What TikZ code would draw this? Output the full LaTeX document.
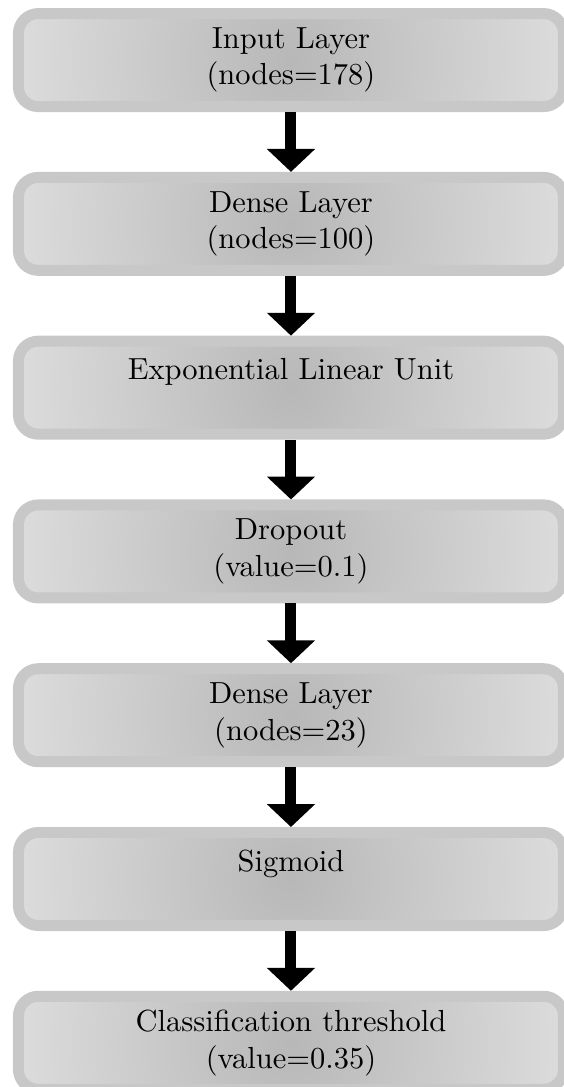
\documentclass[tikz,border=0pt]{standalone}
\usetikzlibrary{positioning,arrows.meta}

\definecolor{layerrim}{gray}{0.785}
\definecolor{layerdark}{gray}{0.72}
\definecolor{layerlight}{gray}{0.93}
\pgfdeclareradialshading{layershade}{\pgfpoint{0bp}{0bp}}{color(0bp)=(layerdark); color(35bp)=(layerlight); color(50bp)=(layerlight)}

\begin{document}
\begin{tikzpicture}[node distance=19.6pt, layer/.style={rectangle, rounded corners=6.5pt, draw=layerrim, line width=3.6pt, minimum width=178.7pt, minimum height=30.5pt, align=center, path picture={\shade[shading=layershade] (path picture bounding box.center) circle (95pt);}}, flow/.style={line width=3.6pt, -{Triangle[width=15.4pt 0 0, length=7.5pt 0 0]}}]
	\useasboundingbox (0,0) rectangle (184.9pt,-356.4pt);

	\node[layer] (input) at (95.4pt,-19.7pt) {Input Layer\\(nodes=178)};
	\node[layer] (dense1) [below=of input] {Dense Layer\\(nodes=100)};
	\node[layer] (elu) [below=of dense1] {Exponential Linear Unit\\~};
	\node[layer] (dropout) [below=of elu] {Dropout\\(value=0.1)};
	\node[layer] (dense2) [below=of dropout] {Dense Layer\\(nodes=23)};
	\node[layer] (sigmoid) [below=of dense2] {Sigmoid\\~};
	\node[layer] (threshold) [below=of sigmoid] {Classification threshold\\(value=0.35)};

	\path
		(input) edge[flow] (dense1)
		(dense1) edge[flow] (elu)
		(elu) edge[flow] (dropout)
		(dropout) edge[flow] (dense2)
		(dense2) edge[flow] (sigmoid)
		(sigmoid) edge[flow] (threshold);
\end{tikzpicture}
\end{document}
